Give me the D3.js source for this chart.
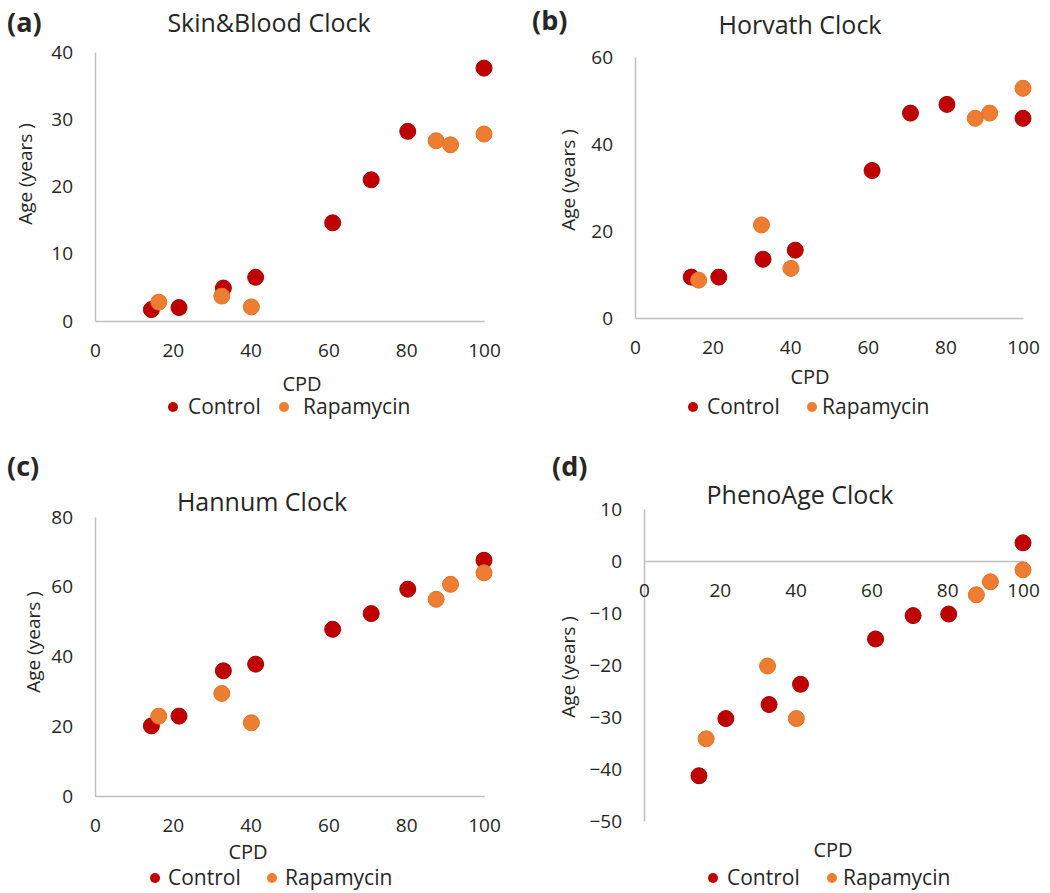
<!DOCTYPE html>
<html>
<head>
<meta charset="utf-8">
<script src="https://cdn.jsdelivr.net/npm/d3@7"></script>
<style>
  html, body { margin: 0; padding: 0; background: #fff; }
  svg { display: block; }
  text { font-family: "Open Sans", "Noto Sans", sans-serif; fill: #262626; }
</style>
</head>
<body>
<svg id="chart" width="1050" height="893"></svg>
<script>
// ---- data ----
const seriesNames = ["Control", "Rapamycin"];
const cpdControl = [14.5, 21.6, 33.0, 41.3, 61.1, 71.0, 80.4, 100];
const cpdRapamycin = [16.4, 32.6, 40.2, 87.7, 91.4, 100];

const skinBloodControl = [1.7, 2.0, 4.9, 6.5, 14.6, 21.0, 28.2, 37.6];
const skinBloodRapamycin = [2.8, 3.7, 2.1, 26.8, 26.2, 27.8];
const horvathControl = [9.4, 9.4, 13.5, 15.6, 33.9, 47.1, 49.1, 45.9];
const horvathRapamycin = [8.7, 21.4, 11.4, 45.9, 47.1, 52.8];
const hannumControl = [20.1, 22.9, 35.9, 37.8, 47.8, 52.3, 59.3, 67.6];
const hannumRapamycin = [22.9, 29.4, 21.0, 56.4, 60.7, 64.0];
const phenoControl = [-41.3, -30.3, -27.6, -23.7, -15.0, -10.5, -10.2, 3.5];
const phenoRapamycin = [-34.2, -20.2, -30.3, -6.5, -4.0, -1.7];

const panelLabels = ["(a)", "(b)", "(c)", "(d)"];
const panelTitles = ["Skin&Blood Clock", "Horvath Clock", "Hannum Clock", "PhenoAge Clock"];
const xTicks = [0, 20, 40, 60, 80, 100];
const yTicksA = [0, 10, 20, 30, 40];
const yTicksB = [0, 20, 40, 60];
const yTicksC = [0, 20, 40, 60, 80];
const yTicksD = [10, 0, -10, -20, -30, -40, -50];
const xTitle = "CPD";
const yTitle = "Age (years )";

// ---- layout ----
const colors = { Control: "#C00000", Rapamycin: "#ED7D31" };
const strokes = { Control: "#A50000", Rapamycin: "#E07228" };

const panels = [
  { label: panelLabels[0], title: panelTitles[0], ctrl: skinBloodControl, rapa: skinBloodRapamycin,
    yDomain: [0, 40], yTicks: yTicksA, xr: [95, 484], yr: [321, 52],
    labelPos: [7, 32], titlePos: [269, 32], yTitlePos: [25, 174], cpdPos: [302, 391],
    legY: 407, legC: [173, 188], legR: [284, 303] },
  { label: panelLabels[1], title: panelTitles[1], ctrl: horvathControl, rapa: horvathRapamycin,
    yDomain: [0, 60], yTicks: yTicksB, xr: [635, 1023], yr: [318, 57],
    labelPos: [532, 30], titlePos: [800, 34], yTitlePos: [568, 180], cpdPos: [810, 384],
    legY: 407, legC: [693, 707], legR: [812, 822] },
  { label: panelLabels[2], title: panelTitles[2], ctrl: hannumControl, rapa: hannumRapamycin,
    yDomain: [0, 80], yTicks: yTicksC, xr: [95, 484], yr: [796, 517],
    labelPos: [7, 476], titlePos: [262, 511], yTitlePos: [33, 642], cpdPos: [248, 859],
    legY: 878, legC: [155, 168], legR: [272, 285] },
  { label: panelLabels[3], title: panelTitles[3], ctrl: phenoControl, rapa: phenoRapamycin,
    yDomain: [-50, 10], yTicks: yTicksD, xr: [644, 1023], yr: [821, 509],
    labelPos: [552, 476], titlePos: [800, 504], yTitlePos: [568, 667], cpdPos: [833, 857],
    legY: 878, legC: [713, 727], legR: [832, 843] }
];

const svg = d3.select("#chart");
const axisColor = "#BFBFBF";

panels.forEach(p => {
  const g = svg.append("g");
  const x = d3.scaleLinear().domain([0, 100]).range(p.xr);
  const y = d3.scaleLinear().domain(p.yDomain).range(p.yr);

  // y axis
  const yAxis = g.append("g")
    .attr("transform", `translate(${p.xr[0]},0)`)
    .call(d3.axisLeft(y).tickValues(p.yTicks).tickSize(0).tickPadding(22).tickFormat(d3.format("d")));
  yAxis.select(".domain").attr("stroke", axisColor).attr("stroke-width", 1.5);
  yAxis.selectAll("text").style("font-size", "19px").style("font-family", "'Open Sans', sans-serif").attr("fill", "#262626");

  // x axis at y = 0
  const xAxis = g.append("g")
    .attr("transform", `translate(0,${y(0)})`)
    .call(d3.axisBottom(x).tickValues(xTicks).tickSize(0).tickPadding(23).tickFormat(d3.format("d")));
  xAxis.select(".domain").attr("stroke", axisColor).attr("stroke-width", 1.5);
  xAxis.selectAll("text").style("font-size", "19px").style("font-family", "'Open Sans', sans-serif").attr("fill", "#262626");

  // points
  const ctrlPts = cpdControl.map((c, i) => ({ x: c, y: p.ctrl[i], s: "Control" }));
  const rapaPts = cpdRapamycin.map((c, i) => ({ x: c, y: p.rapa[i], s: "Rapamycin" }));
  g.append("g").selectAll("circle").data(ctrlPts.concat(rapaPts)).join("circle")
    .attr("cx", d => x(d.x)).attr("cy", d => y(d.y)).attr("r", 8)
    .attr("fill", d => colors[d.s]).attr("stroke", d => strokes[d.s]).attr("stroke-width", 1);

  // panel label
  g.append("text").attr("x", p.labelPos[0]).attr("y", p.labelPos[1])
    .style("font-size", "27px").style("font-weight", "bold").text(p.label);
  // title
  g.append("text").attr("x", p.titlePos[0]).attr("y", p.titlePos[1]).attr("text-anchor", "middle")
    .style("font-size", "25px").text(p.title);
  // y title
  g.append("text").attr("transform", `translate(${p.yTitlePos[0]},${p.yTitlePos[1]}) rotate(-90)`)
    .attr("text-anchor", "middle").attr("dy", "0.35em").style("font-size", "19px").text(yTitle);
  // x title
  g.append("text").attr("x", p.cpdPos[0]).attr("y", p.cpdPos[1]).attr("text-anchor", "middle")
    .style("font-size", "20px").text(xTitle);

  // legend
  const leg = g.append("g");
  [[seriesNames[0], p.legC], [seriesNames[1], p.legR]].forEach(([name, pos]) => {
    leg.append("circle").attr("cx", pos[0]).attr("cy", p.legY).attr("r", 5).attr("fill", colors[name]);
    leg.append("text").attr("x", pos[1]).attr("y", p.legY).attr("dy", "0.35em")
      .style("font-size", "21px").text(name);
  });
});
</script>
</body>
</html>
